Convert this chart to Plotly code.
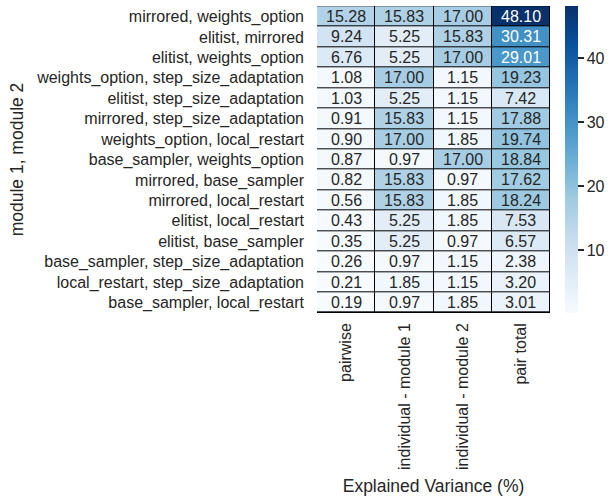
import plotly.graph_objects as go

rows = [
    "mirrored, weights_option",
    "elitist, mirrored",
    "elitist, weights_option",
    "weights_option, step_size_adaptation",
    "elitist, step_size_adaptation",
    "mirrored, step_size_adaptation",
    "weights_option, local_restart",
    "base_sampler, weights_option",
    "mirrored, base_sampler",
    "mirrored, local_restart",
    "elitist, local_restart",
    "elitist, base_sampler",
    "base_sampler, step_size_adaptation",
    "local_restart, step_size_adaptation",
    "base_sampler, local_restart",
]
cols = ["pairwise", "individual - module 1", "individual - module 2", "pair total"]

pairwise = [15.28, 9.24, 6.76, 1.08, 1.03, 0.91, 0.90, 0.87, 0.82, 0.56, 0.43, 0.35, 0.26, 0.21, 0.19]
indiv1 = [15.83, 5.25, 5.25, 17.00, 5.25, 15.83, 17.00, 0.97, 15.83, 15.83, 5.25, 5.25, 0.97, 1.85, 0.97]
indiv2 = [17.00, 15.83, 17.00, 1.15, 1.15, 1.15, 1.85, 17.00, 0.97, 1.85, 1.85, 0.97, 1.15, 1.15, 1.85]
pair_total = [48.10, 30.31, 29.01, 19.23, 7.42, 17.88, 19.74, 18.84, 17.62, 18.24, 7.53, 6.57, 2.38, 3.20, 3.01]

z = [list(r) for r in zip(pairwise, indiv1, indiv2, pair_total)]

blues = ["#f7fbff", "#deebf7", "#c6dbef", "#9ecae1", "#6baed6",
         "#4292c6", "#2171b5", "#08519c", "#08306b"]
colorscale = [[i / (len(blues) - 1), c] for i, c in enumerate(blues)]

FONT = "Liberation Sans, Arial, sans-serif"
TXT = "#262626"

fig = go.Figure(go.Heatmap(
    z=z, x=cols, y=rows,
    colorscale=colorscale,
    xgap=1, ygap=1,
    showscale=True,
    colorbar=dict(
        x=1.064, xanchor="left", y=0.5, yanchor="middle",
        xpad=0, ypad=0,
        len=1.0, lenmode="fraction", thickness=13,
        outlinewidth=0,
        tickvals=[10, 20, 30, 40],
        ticks="outside", ticklen=6, tickwidth=1.5, tickcolor=TXT,
        tickfont=dict(family=FONT, size=16, color=TXT),
    ),
    hoverinfo="x+y+z",
))

vmin = min(min(r) for r in z)
vmax = max(max(r) for r in z)
annotations = []
for i, rname in enumerate(rows):
    for j, cname in enumerate(cols):
        v = z[i][j]
        frac = (v - vmin) / (vmax - vmin)
        color = "white" if frac > 0.55 else TXT
        annotations.append(dict(
            x=cname, y=rname, text=f"{v:.2f}", showarrow=False,
            font=dict(family=FONT, size=16, color=color),
        ))

fig.update_layout(
    width=608, height=500,
    margin=dict(l=317, r=58, t=6, b=187, autoexpand=False),
    paper_bgcolor="white",
    plot_bgcolor="black",
    font=dict(family=FONT, color=TXT),
    annotations=annotations,
    xaxis=dict(
        tickangle=-90, tickfont=dict(size=16, color=TXT),
        ticks="", showgrid=False, zeroline=False, automargin=False,
        ticklabelstandoff=6,
        title=dict(text="Explained Variance (%)", font=dict(size=17.5, color=TXT), standoff=10),
    ),
    yaxis=dict(
        autorange="reversed", tickfont=dict(size=16, color=TXT),
        ticks="", showgrid=False, zeroline=False, automargin=False,
        ticklabelstandoff=12,
        title=dict(text="module 1, module 2", font=dict(size=17.5, color=TXT), standoff=8),
    ),
)

fig.write_html("out.html", config={"displayModeBar": False},
               post_script="document.body.style.margin='0';")
